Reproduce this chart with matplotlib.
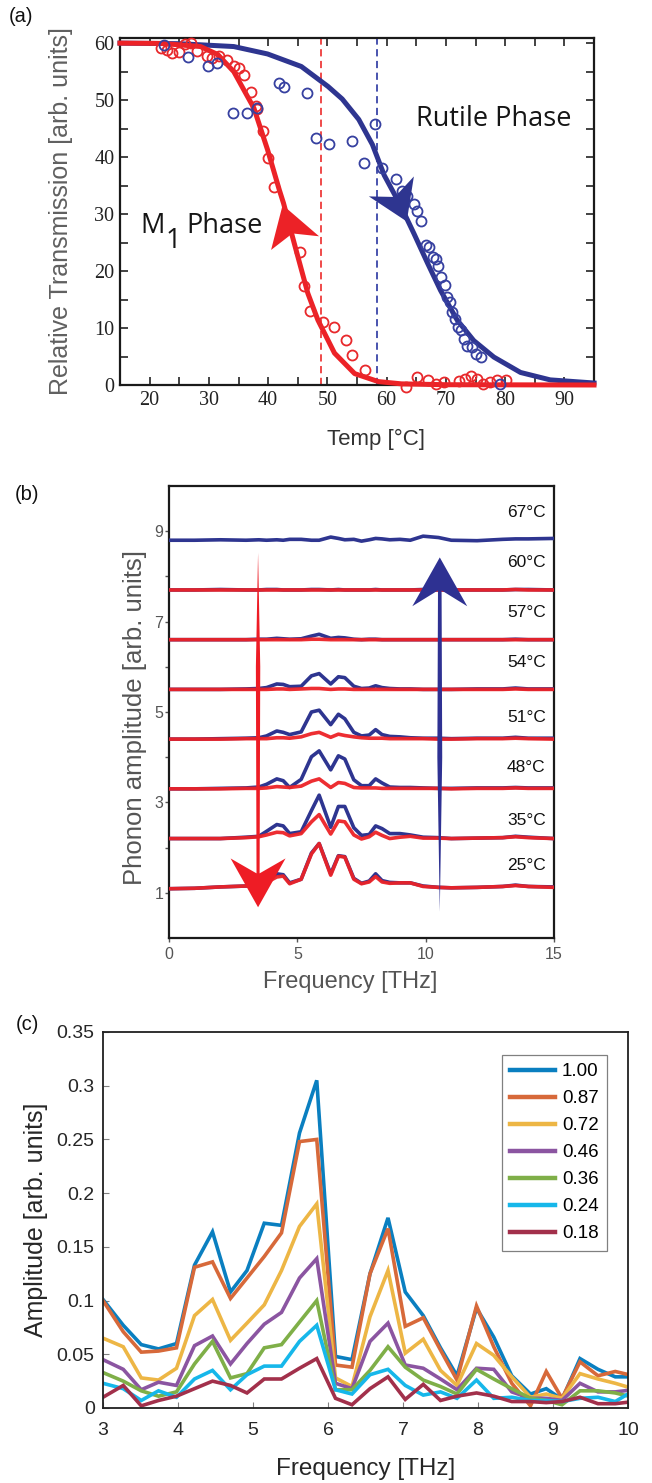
import matplotlib
matplotlib.use("Agg")
import matplotlib.pyplot as plt
from matplotlib.patches import Polygon
from matplotlib.ticker import MultipleLocator, FixedLocator

plt.rcParams['font.family'] = ['Liberation Sans', 'DejaVu Sans']

# ---------------- (a) transmission hysteresis ----------------
m1_temp = [22.0, 22.9, 23.8, 24.9, 26.0, 26.9, 28.0, 29.7, 30.6, 31.7, 33.1, 34.2,
           35.1, 35.9, 37.1, 37.9, 38.2, 39.1, 39.9, 41.0, 45.3, 46.1, 47.0, 49.2,
           51.2, 53.2, 54.2, 56.3, 63.2, 65.2, 67.0, 68.4, 69.7, 72.2, 73.2, 74.2,
           75.3, 76.3, 77.4, 78.7, 80.1]
m1_trans = [59.1, 58.8, 58.2, 58.5, 59.9, 60.0, 58.7, 57.8, 57.4, 57.7, 57.1, 56.0,
            55.6, 54.4, 51.5, 48.9, 48.4, 44.5, 39.8, 34.8, 23.4, 17.3, 12.9, 11.1,
            10.2, 7.9, 5.3, 2.6, -0.3, 1.35, 0.9, 0.2, 0.5, 0.65, 1.06, 1.5,
            1.06, 0.2, 0.5, 0.8, 0.9]
rut_temp = [22.4, 26.4, 29.8, 31.3, 34.0, 36.5, 38.2, 41.9, 42.6, 46.6, 48.1, 50.2,
            54.2, 56.2, 58.0, 59.2, 61.5, 62.6, 63.5, 64.6, 65.2, 65.8, 66.6, 67.1,
            67.9, 68.3, 68.7, 69.2, 69.8, 70.2, 70.7, 71.1, 71.5, 72.0, 72.5, 73.0,
            73.6, 74.4, 75.0, 76.0, 79.2]
rut_trans = [59.7, 57.5, 56.0, 56.5, 47.8, 47.8, 48.6, 53.0, 52.3, 51.2, 43.3, 42.3,
             42.9, 38.9, 45.8, 38.1, 36.2, 34.0, 33.1, 31.8, 30.5, 28.7, 24.6, 24.3,
             22.4, 22.1, 20.9, 19.0, 17.5, 15.5, 14.6, 12.8, 11.6, 10.2, 9.6, 8.1,
             6.8, 6.6, 5.5, 4.9, 0.1]
m1_fit_temp = [15.0, 22.0, 28.6, 31.5, 34.2, 37.6, 39.9, 41.9, 42.6, 44.4, 46.7,
               48.4, 51.2, 54.6, 58.6, 62.5, 70.0, 95.0]
m1_fit_trans = [60.0, 59.95, 59.4, 58.0, 55.0, 48.6, 41.3, 34.2, 31.9, 24.9, 16.1,
                11.4, 5.6, 2.0, 0.6, 0.2, 0.05, 0.0]
rut_fit_temp = [15.0, 25.0, 34.2, 39.9, 45.6, 50.1, 52.5, 55.3, 57.6, 59.6, 62.4,
                64.6, 66.9, 69.1, 71.9, 74.7, 78.1, 82.6, 87.6, 95.0]
rut_fit_trans = [60.0, 59.9, 59.4, 58.1, 55.9, 52.4, 50.2, 46.6, 42.2, 36.8, 31.4,
                 26.6, 21.4, 16.6, 11.4, 7.8, 4.9, 2.2, 0.9, 0.35]
m1_tc = 48.9
rut_tc = 58.4

# arrowheads along the fits (tip, wing, notch, wing)
m1_head = [(42.45, 31.6), (48.6, 26.1), (44.1, 26.6), (40.5, 23.7)]
rut_head = [(63.4, 28.7), (57.0, 33.1), (61.4, 33.0), (64.6, 36.6)]

# ---------------- (b) phonon spectra vs temperature ----------------
freq_b = [0.0, 1.0, 2.0, 3.0, 3.5, 3.8, 4.2, 4.45, 4.7, 5.15, 5.55, 5.85, 6.3, 6.6,
          6.85, 7.2, 7.5, 7.8, 8.05, 8.3, 8.6, 9.0, 9.4, 9.9, 10.5, 11.0, 12.0,
          13.0, 13.5, 14.0, 15.0]
temps_b = ['25°C', '35°C', '48°C', '51°C', '54°C', '57°C', '60°C', '67°C']
offsets_b = [1.1, 2.2, 3.3, 4.4, 5.5, 6.6, 7.7, 8.8]
label_y_b = [1.61, 2.61, 3.78, 4.88, 6.09, 7.20, 8.30, 9.41]

heat_25 = [-0.01, 0.0, 0.03, 0.05, 0.06, 0.15, 0.32, 0.30, 0.12, 0.20, 0.78, 0.99, 0.32,
           0.72, 0.70, 0.22, 0.11, 0.16, 0.32, 0.17, 0.13, 0.12, 0.12, 0.05, 0.02,
           0.01, 0.02, 0.04, 0.07, 0.04, 0.03]
heat_35 = [0.0, 0.0, 0.0, 0.03, 0.05, 0.16, 0.31, 0.28, 0.11, 0.15, 0.62, 0.96, 0.25,
           0.71, 0.71, 0.24, 0.07, 0.09, 0.28, 0.22, 0.11, 0.11, 0.08, 0.03, 0.02,
           0.0, 0.01, 0.02, 0.05, 0.03, 0.0]
heat_48 = [0.0, 0.0, 0.01, 0.02, 0.04, 0.10, 0.22, 0.18, 0.03, 0.21, 0.71, 0.84, 0.42,
           0.73, 0.66, 0.20, 0.07, 0.07, 0.22, 0.13, 0.04, 0.03, 0.03, 0.02, 0.01,
           0.01, 0.02, 0.02, 0.03, 0.02, 0.02]
heat_51 = [0.0, 0.0, 0.01, 0.02, 0.03, 0.07, 0.18, 0.15, 0.10, 0.16, 0.60, 0.64, 0.32,
           0.55, 0.45, 0.15, 0.07, 0.09, 0.21, 0.10, 0.06, 0.05, 0.03, 0.02, 0.02,
           0.01, 0.02, 0.02, 0.04, 0.02, 0.02]
heat_54 = [0.0, 0.0, 0.0, 0.01, 0.02, 0.04, 0.12, 0.11, 0.06, 0.07, 0.30, 0.35, 0.12,
           0.28, 0.26, 0.07, 0.02, 0.03, 0.08, 0.04, 0.02, 0.01, 0.01, 0.0, 0.0,
           0.0, 0.01, 0.01, 0.03, 0.01, 0.01]
heat_57 = [0.0, 0.0, 0.0, 0.0, 0.01, 0.01, 0.03, 0.02, 0.01, 0.02, 0.08, 0.12, 0.03,
           0.05, 0.04, 0.01, 0.0, 0.01, 0.01, 0.0, 0.0, 0.0, 0.0, 0.0, 0.0,
           0.0, 0.0, 0.0, 0.01, 0.0, 0.0]
heat_60 = [0.0, 0.0, 0.01, 0.0, 0.0, 0.01, 0.01, 0.0, 0.0, 0.0, 0.01, 0.01, 0.0,
           0.01, 0.0, 0.0, 0.0, 0.0, 0.01, 0.0, 0.0, 0.0, 0.0, 0.01, 0.0,
           0.0, 0.0, 0.0, 0.01, 0.01, 0.0]
heat_67 = [0.0, 0.0, 0.01, 0.0, 0.01, 0.0, 0.01, 0.0, 0.02, 0.02, 0.0, 0.0, 0.07,
           0.04, 0.01, 0.02, -0.02, 0.01, 0.04, 0.03, 0.01, 0.02, 0.0, 0.09, 0.06,
           0.0, -0.01, 0.02, 0.03, 0.03, 0.04]

cool_25 = [-0.01, 0.0, 0.03, 0.05, 0.06, 0.13, 0.25, 0.27, 0.10, 0.20, 0.76, 0.99, 0.29,
           0.71, 0.69, 0.20, 0.10, 0.14, 0.26, 0.14, 0.11, 0.12, 0.12, 0.04, 0.02,
           0.01, 0.02, 0.04, 0.06, 0.04, 0.02]
cool_35 = [0.0, 0.0, 0.0, 0.02, 0.04, 0.08, 0.14, 0.13, 0.06, 0.11, 0.37, 0.53, 0.10,
           0.39, 0.37, 0.08, -0.01, 0.04, 0.14, 0.07, 0.0, 0.03, 0.05, 0.01, 0.01,
           0.0, 0.01, 0.02, 0.04, 0.02, 0.0]
cool_48 = [0.0, 0.0, 0.0, 0.01, 0.01, 0.02, 0.05, 0.04, 0.03, 0.06, 0.17, 0.22, 0.03,
           0.14, 0.12, 0.03, 0.02, 0.02, 0.02, 0.01, 0.01, 0.01, 0.01, 0.01, 0.01,
           0.0, 0.01, 0.01, 0.02, 0.01, 0.01]
cool_51 = [0.0, 0.0, 0.0, 0.01, 0.01, 0.01, 0.03, 0.03, 0.02, 0.05, 0.12, 0.15, 0.04,
           0.11, 0.08, 0.05, 0.03, 0.02, 0.02, 0.02, 0.01, 0.01, 0.01, 0.01, 0.0,
           0.0, 0.01, 0.01, 0.02, 0.01, 0.0]
cool_54 = [0.0, 0.0, 0.0, 0.0, 0.0, 0.0, 0.01, 0.01, 0.0, 0.01, 0.02, 0.02, 0.0,
           0.01, 0.01, 0.0, 0.0, 0.0, 0.0, 0.0, 0.0, 0.0, 0.0, 0.0, 0.0,
           0.0, 0.0, 0.0, 0.01, 0.0, 0.0]
cool_57 = [0.0, 0.0, 0.0, 0.0, 0.0, 0.0, 0.0, 0.0, 0.0, 0.0, 0.01, 0.01, 0.0,
           0.0, 0.0, 0.0, 0.0, 0.0, 0.0, 0.0, 0.0, 0.0, 0.0, 0.0, 0.0,
           0.0, 0.0, 0.0, 0.0, 0.0, 0.0]
cool_60 = [0.0, 0.0, 0.0, 0.0, 0.0, 0.0, 0.0, 0.0, 0.0, 0.0, 0.0, 0.0, 0.0,
           0.0, 0.0, 0.0, 0.0, 0.0, 0.0, 0.0, 0.0, 0.0, 0.0, 0.0, 0.0,
           0.0, 0.0, 0.0, 0.01, 0.0, 0.0]

heating_b = [heat_25, heat_35, heat_48, heat_51, heat_54, heat_57, heat_60, heat_67]
cooling_b = [cool_25, cool_35, cool_48, cool_51, cool_54, cool_57, cool_60]

# spindle arrows: x, tail y, tip y, notch y, wing y, wing half-width, shaft half-widths
cool_arrow = dict(x=3.47, tail=8.52, tip=0.68, notch=1.43, wing=1.76, half=1.07, mid=6.0, w_mid=0.085, w_end=0.06)
heat_arrow = dict(x=10.55, tail=0.58, tip=8.42, notch=7.69, wing=7.34, half=1.07, mid=4.0, w_mid=0.095, w_end=0.07)

# ---------------- (c) spectra vs fluence ----------------
freq_c = [3.00, 3.27, 3.51, 3.74, 3.98, 4.22, 4.46, 4.70, 4.92, 5.15, 5.38, 5.62, 5.85,
          6.10, 6.32, 6.56, 6.80, 7.03, 7.27, 7.50, 7.72, 7.98, 8.21, 8.45, 8.70, 8.91,
          9.12, 9.36, 9.60, 9.83, 10.07]
amp_100 = [0.101, 0.077, 0.059, 0.055, 0.060, 0.133, 0.164, 0.108, 0.128, 0.172, 0.170,
           0.256, 0.305, 0.048, 0.045, 0.125, 0.177, 0.108, 0.086, 0.056, 0.030, 0.093,
           0.066, 0.030, 0.013, 0.018, 0.008, 0.046, 0.036, 0.029, 0.029]
amp_087 = [0.100, 0.071, 0.052, 0.053, 0.056, 0.131, 0.136, 0.102, 0.121, 0.141, 0.163,
           0.248, 0.250, 0.040, 0.038, 0.125, 0.167, 0.076, 0.084, 0.054, 0.026, 0.095,
           0.057, 0.023, 0.002, 0.034, 0.009, 0.043, 0.030, 0.034, 0.030]
amp_072 = [0.065, 0.057, 0.028, 0.026, 0.037, 0.086, 0.101, 0.063, 0.079, 0.096, 0.128,
           0.169, 0.190, 0.028, 0.020, 0.085, 0.128, 0.051, 0.064, 0.035, 0.021, 0.060,
           0.049, 0.029, 0.010, 0.013, 0.009, 0.032, 0.027, 0.023, 0.018]
amp_046 = [0.045, 0.036, 0.017, 0.024, 0.021, 0.058, 0.067, 0.041, 0.060, 0.078, 0.089,
           0.121, 0.139, 0.023, 0.018, 0.062, 0.079, 0.040, 0.037, 0.027, 0.017, 0.037,
           0.036, 0.015, 0.009, 0.009, 0.007, 0.023, 0.015, 0.015, 0.017]
amp_036 = [0.033, 0.025, 0.016, 0.011, 0.015, 0.041, 0.062, 0.028, 0.032, 0.056, 0.059,
           0.080, 0.100, 0.017, 0.017, 0.035, 0.057, 0.038, 0.026, 0.020, 0.013, 0.036,
           0.027, 0.018, 0.009, 0.007, 0.003, 0.016, 0.016, 0.014, 0.010]
amp_024 = [0.023, 0.018, 0.007, 0.016, 0.010, 0.027, 0.035, 0.017, 0.031, 0.039, 0.039,
           0.062, 0.077, 0.017, 0.013, 0.031, 0.036, 0.021, 0.012, 0.015, 0.009, 0.026,
           0.009, 0.010, 0.007, 0.007, 0.006, 0.009, 0.010, 0.006, 0.016]
amp_018 = [0.010, 0.021, 0.002, 0.007, 0.011, 0.018, 0.025, 0.021, 0.014, 0.027, 0.027,
           0.037, 0.046, 0.009, 0.003, 0.018, 0.029, 0.008, 0.022, 0.007, 0.011, 0.014,
           0.011, 0.006, 0.006, 0.005, 0.006, 0.010, 0.004, 0.004, 0.006]
fluence_labels = ['1.00', '0.87', '0.72', '0.46', '0.36', '0.24', '0.18']
amps_c = [amp_100, amp_087, amp_072, amp_046, amp_036, amp_024, amp_018]
colors_c = ['#0A7FC0', '#D7693A', '#EDB645', '#8B55A1', '#7FAF48', '#16B7EA', '#A2304B']

RED = '#EC2227'
BLUE = '#2E3590'
W, H = 652, 1483

fig = plt.figure(figsize=(W / 100, H / 100), dpi=100)


def px_axes(left, top, right, bottom):
    return fig.add_axes([left / W, 1 - bottom / H, (right - left) / W, (bottom - top) / H])


# ================= panel (a) =================
ax = px_axes(120, 38, 594, 385)
ax.plot(rut_fit_temp, rut_fit_trans, color=BLUE, lw=3.6, clip_on=False, zorder=3)
ax.plot(m1_fit_temp, m1_fit_trans, color=RED, lw=3.6, clip_on=False, zorder=3)
ax.plot(m1_temp, m1_trans, 'o', mfc='none', mec='#E8282B', ms=7.2, mew=1.3, clip_on=False, zorder=4)
ax.plot(rut_temp, rut_trans, 'o', mfc='none', mec='#3640A0', ms=7.2, mew=1.3, clip_on=False, zorder=4)
ax.axvline(m1_tc, color='#EE3B3B', lw=1.3, ls=(0, (4, 2.5)), zorder=2)
ax.axvline(rut_tc, color='#3A45A8', lw=1.3, ls=(0, (4, 2.5)), zorder=2)
ax.add_patch(Polygon(m1_head, closed=True, fc=RED, ec='none', zorder=5))
ax.add_patch(Polygon(rut_head, closed=True, fc=BLUE, ec='none', zorder=5))
ax.set_xlim(15, 95)
ax.set_ylim(0, 60.9)
ax.xaxis.set_major_locator(FixedLocator([20, 30, 40, 50, 60, 70, 80, 90]))
ax.xaxis.set_minor_locator(MultipleLocator(5))
ax.yaxis.set_major_locator(MultipleLocator(10))
ax.yaxis.set_minor_locator(MultipleLocator(5))
ax.tick_params(which='both', direction='in', top=True, right=True, width=1.2, color='#222222')
ax.tick_params(which='major', length=5.5)
ax.tick_params(which='minor', length=5.5)
ax.tick_params(axis='both', labelsize=14.5, labelcolor='#222222',
               labelfontfamily='Liberation Serif')
ax.tick_params(axis='x', pad=4)
ax.tick_params(axis='y', pad=4)
for s in ax.spines.values():
    s.set_linewidth(1.6)
    s.set_color('#1a1a1a')
ax.set_ylabel('Relative Transmission [arb. units]', fontsize=18, color='#606060')
ax.yaxis.label.set_va('center')
ax.yaxis.set_label_coords(-0.124, 0.5)
ax.set_xlabel('Temp [°C]', fontsize=16, color='#333333')
ax.xaxis.label.set_va('center')
ax.xaxis.set_label_coords(0.54, -0.158)
phase_font = ['Open Sans', 'DejaVu Sans']
ax.text(64.9, 45.4, 'Rutile Phase', fontsize=19.5, family=phase_font, color='#151515',
        ha='left', va='baseline', zorder=6)
ax.text(18.4, 26.6, 'M', fontsize=19.5, family=phase_font, color='#151515', ha='left', va='baseline', zorder=6)
ax.text(22.75, 24.0, '1', fontsize=19.5, family=phase_font, color='#151515', ha='left', va='baseline', zorder=6)
ax.text(26.2, 26.6, 'Phase', fontsize=19.5, family=phase_font, color='#151515', ha='left', va='baseline', zorder=6)
fig.text(21 / W, 1 - 16 / H, '(a)', fontsize=14.5, ha='center', va='center', color='#111111')

# ================= panel (b) =================
bx = px_axes(169, 486, 554, 938)
for i, off in enumerate(offsets_b):
    bx.plot(freq_b, [off + v for v in heating_b[i]], color=BLUE, lw=2.6, zorder=3,
            solid_joinstyle='round')
    if i < len(cooling_b):
        bx.plot(freq_b, [off + v for v in cooling_b[i]], color=RED, lw=2.6, zorder=4,
                solid_joinstyle='round', alpha=0.95)
    bx.text(13.92, label_y_b[i], temps_b[i], fontsize=12.5, ha='center', va='center', color='#111111')


def spindle(a, color):
    x = a['x']
    verts = [(x, a['tail']), (x + a['w_mid'], a['mid']), (x + a['w_end'], a['notch']),
             (x + a['half'], a['wing']), (x, a['tip']), (x - a['half'], a['wing']),
             (x - a['w_end'], a['notch']), (x - a['w_mid'], a['mid'])]
    bx.add_patch(Polygon(verts, closed=True, fc=color, ec='none', zorder=6))


spindle(cool_arrow, '#EE1C25')
spindle(heat_arrow, '#2E3192')
bx.set_xlim(0, 15)
bx.set_ylim(0, 10)
bx.xaxis.set_major_locator(FixedLocator([0, 5, 10, 15]))
bx.yaxis.set_major_locator(FixedLocator([1, 3, 5, 7, 9]))
bx.yaxis.set_minor_locator(FixedLocator([2, 4, 6, 8]))
bx.tick_params(which='both', direction='out', length=3.2, width=1.0, color='#555555',
               labelsize=11.5, labelcolor='#555555')
bx.tick_params(axis='y', pad=1)
bx.tick_params(axis='x', pad=3)
for s in bx.spines.values():
    s.set_linewidth(1.6)
    s.set_color('#1a1a1a')
bx.set_ylabel('Phonon amplitude [arb. units]', fontsize=18.5, color='#555555')
bx.yaxis.label.set_va('center')
bx.yaxis.set_label_coords(-0.088, 0.487)
bx.set_xlabel('Frequency [THz]', fontsize=17, color='#555555')
bx.xaxis.label.set_va('center')
bx.xaxis.set_label_coords(0.47, -0.097)
fig.text(27 / W, 1 - 494 / H, '(b)', fontsize=14.5, ha='center', va='center', color='#111111')

# ================= panel (c) =================
cx = px_axes(103, 1032, 628, 1408)
for amp, lab, col in zip(amps_c, fluence_labels, colors_c):
    cx.plot(freq_c, amp, color=col, lw=2.6, label=lab, solid_joinstyle='miter')
cx.set_xlim(3, 10)
cx.set_ylim(0, 0.35)
cx.xaxis.set_major_locator(MultipleLocator(1))
cx.set_yticks([0, 0.05, 0.1, 0.15, 0.2, 0.25, 0.3, 0.35])
cx.set_yticklabels(['0', '0.05', '0.1', '0.15', '0.2', '0.25', '0.3', '0.35'])
cx.tick_params(direction='in', length=4, width=0.8, color='#808080', labelsize=14,
               labelcolor='#262626')
cx.tick_params(axis='x', pad=10)
cx.tick_params(axis='y', pad=6)
for s in cx.spines.values():
    s.set_linewidth(1.3)
    s.set_color('#202020')
cx.set_ylabel('Amplitude [arb. units]', fontsize=18, color='#262626')
cx.yaxis.label.set_va('center')
cx.yaxis.set_label_coords(-0.128, 0.5)
cx.set_xlabel('Frequency [THz]', fontsize=17.5, color='#262626')
cx.xaxis.label.set_va('center')
cx.xaxis.set_label_coords(0.5, -0.162)
leg = cx.legend(loc='upper right', bbox_to_anchor=(0.96, 0.94), fontsize=13.5,
                frameon=True, fancybox=False, edgecolor='#808080', framealpha=1,
                handlelength=2.4, handletextpad=0.35, labelspacing=0.53, borderpad=0.45,
                borderaxespad=0)
leg.get_frame().set_linewidth(0.9)
for line in leg.get_lines():
    line.set_linewidth(3.2)
fig.text(27 / W, 1 - 1024 / H, '(c)', fontsize=14.5, ha='center', va='center', color='#111111')

fig.savefig('out.png', dpi=100)
